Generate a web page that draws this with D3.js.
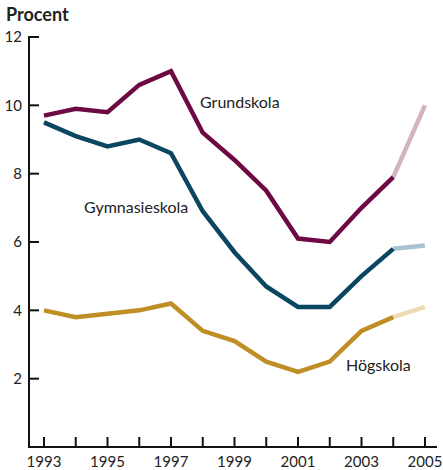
<!DOCTYPE html>
<html lang="sv">
<head>
<meta charset="UTF-8">
<title>Procent</title>
<script src="https://d3js.org/d3.v7.min.js"></script>
<style>
  body { margin: 0; background: #fff; }
  text { font-family: Lato, "Open Sans", sans-serif; fill: #222; }
</style>
</head>
<body>
<svg id="chart" width="443" height="470"></svg>
<script>
// data
var years = [1993, 1994, 1995, 1996, 1997, 1998, 1999, 2000, 2001, 2002, 2003, 2004, 2005];
var grundskola = [9.7, 9.9, 9.8, 10.6, 11.0, 9.2, 8.4, 7.5, 6.1, 6.0, 7.0, 7.9, 10.0];
var gymnasieskola = [9.5, 9.1, 8.8, 9.0, 8.6, 6.9, 5.7, 4.7, 4.1, 4.1, 5.0, 5.8, 5.9];
var hogskola = [4.0, 3.8, 3.9, 4.0, 4.2, 3.4, 3.1, 2.5, 2.2, 2.5, 3.4, 3.8, 4.1];
var yTicks = [2, 4, 6, 8, 10, 12];
var xTickLabels = [1993, 1995, 1997, 1999, 2001, 2003, 2005];
var lastYear = 2004; // after this the line is drawn pale

var series = [
    { name: "Grundskola", values: grundskola, color: "#6d0a44", pale: "#d3b3c3", lx: 200, ly: 108 },
    { name: "Gymnasieskola", values: gymnasieskola, color: "#0b4660", pale: "#a9c3d3", lx: 84, ly: 213 },
    { name: "Högskola", values: hogskola, color: "#bf8f25", pale: "#eedcb4", lx: 346, ly: 371 }
];

var svg = d3.select("#chart");

var x = d3.scaleLinear().domain([1993, 2005]).range([44, 425]);
var y = d3.scaleLinear().domain([0, 12]).range([447, 37]);

var line = d3.line()
    .x(function (d) { return x(d.year); })
    .y(function (d) { return y(d.value); });

// title
svg.append("text")
    .attr("x", 6).attr("y", 21)
    .style("font-weight", "bold")
    .style("font-size", "18px")
    .text("Procent");

// axes
svg.append("line")
    .attr("x1", x.range()[0] - 15).attr("x2", x.range()[0] - 15)
    .attr("y1", y(12) - 1).attr("y2", y(0) + 1)
    .attr("stroke", "#111").attr("stroke-width", 2);
svg.append("line")
    .attr("x1", x.range()[0] - 15).attr("x2", 437)
    .attr("y1", y(0)).attr("y2", y(0))
    .attr("stroke", "#111").attr("stroke-width", 2);

// y ticks, pointing inward
svg.append("g").selectAll("line")
    .data(yTicks).enter().append("line")
    .attr("x1", x.range()[0] - 15).attr("x2", x.range()[0] - 5)
    .attr("y1", function (d) { return y(d); })
    .attr("y2", function (d) { return y(d); })
    .attr("stroke", "#111").attr("stroke-width", 2);
svg.append("g").selectAll("text")
    .data(yTicks).enter().append("text")
    .attr("x", 22)
    .attr("y", function (d) { return y(d); })
    .attr("dy", "0.35em")
    .attr("text-anchor", "end")
    .style("font-size", "15px")
    .text(function (d) { return d; });

// x ticks, every year, upward
svg.append("g").selectAll("line")
    .data(years).enter().append("line")
    .attr("x1", function (d) { return x(d); })
    .attr("x2", function (d) { return x(d); })
    .attr("y1", y(0) - 10).attr("y2", y(0))
    .attr("stroke", "#111").attr("stroke-width", 2);
svg.append("g").selectAll("text")
    .data(xTickLabels).enter().append("text")
    .attr("x", function (d) { return x(d); })
    .attr("y", 467)
    .attr("text-anchor", "middle")
    .style("font-size", "15px")
    .text(function (d) { return d; });

// lines: solid part then pale last segment
series.forEach(function (s) {
    var pts = years.map(function (yr, i) { return { year: yr, value: s.values[i] }; });
    svg.append("path")
        .datum(pts.filter(function (d) { return d.year >= lastYear; }))
        .attr("d", line)
        .attr("fill", "none")
        .attr("stroke", s.pale)
        .attr("stroke-width", 4.5);
    svg.append("path")
        .datum(pts.filter(function (d) { return d.year <= lastYear; }))
        .attr("d", line)
        .attr("fill", "none")
        .attr("stroke", s.color)
        .attr("stroke-width", 4.5)
        .attr("stroke-linejoin", "miter");
    svg.append("text")
        .attr("x", s.lx).attr("y", s.ly)
        .style("font-size", "16px")
        .text(s.name);
});
</script>
</body>
</html>
